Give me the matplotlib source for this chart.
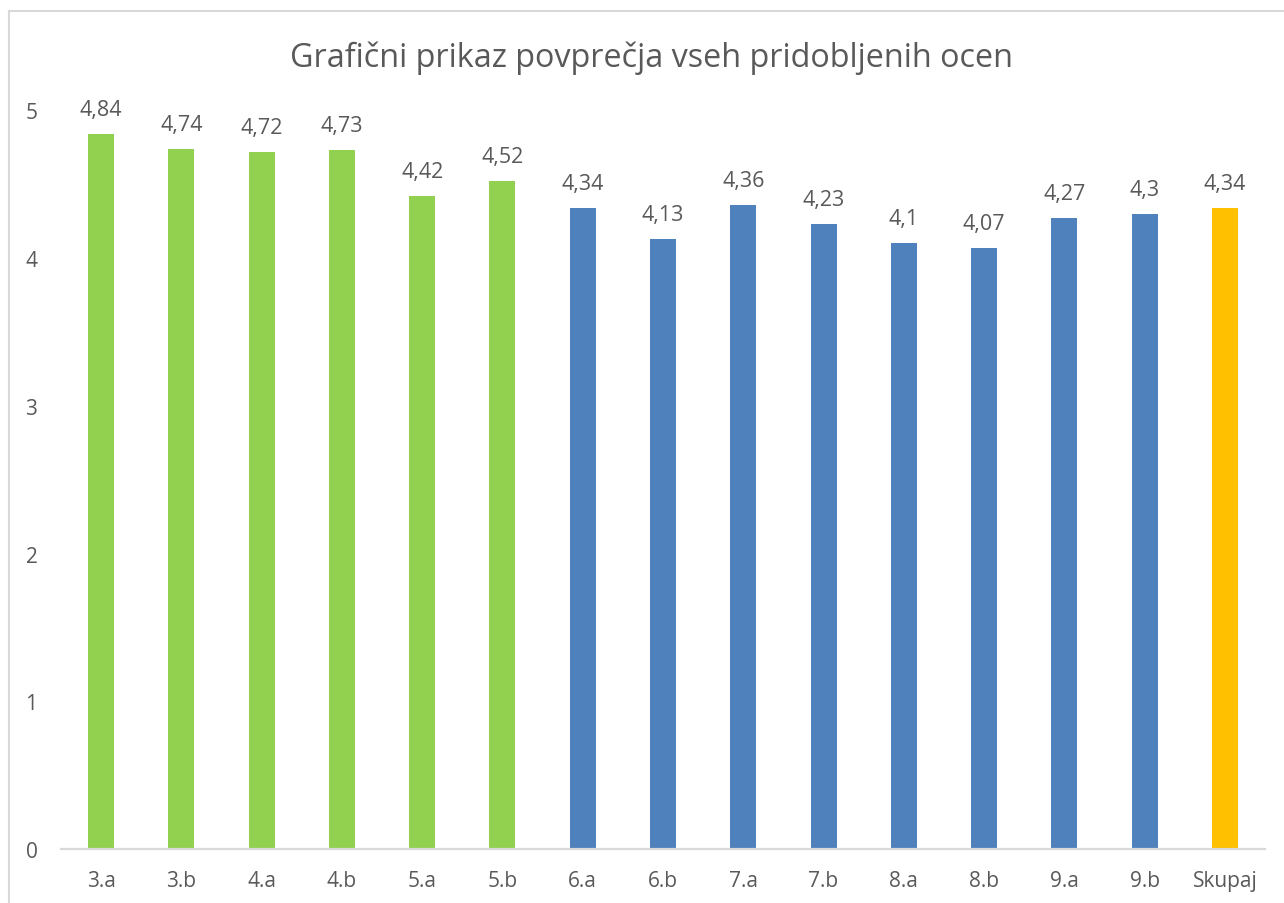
import matplotlib
matplotlib.use('Agg')
import matplotlib.pyplot as plt
from matplotlib.lines import Line2D

plt.rcParams['font.family'] = ['Open Sans', 'DejaVu Sans']

# Podatki
razredi = ['3.a', '3.b', '4.a', '4.b', '5.a', '5.b', '6.a', '6.b', '7.a', '7.b',
           '8.a', '8.b', '9.a', '9.b', 'Skupaj']
povprecja = [4.84, 4.74, 4.72, 4.73, 4.42, 4.52, 4.34, 4.13, 4.36, 4.23,
             4.1, 4.07, 4.27, 4.3, 4.34]
oznake = ['4,84', '4,74', '4,72', '4,73', '4,42', '4,52', '4,34', '4,13', '4,36', '4,23',
          '4,1', '4,07', '4,27', '4,3', '4,34']
barve = ['#92D050'] * 6 + ['#4F81BD'] * 8 + ['#FFC000']

siva = '#595959'
W, H = 1284, 904

fig = plt.figure(figsize=(W / 100, H / 100), dpi=100)
ax = fig.add_axes([61 / W, 54 / H, 1204 / W, (850 - 111.4) / H])

x = range(len(razredi))
stolpci = ax.bar(x, povprecja, width=0.324, color=barve)

for s, t in zip(stolpci, oznake):
    ax.annotate(t, (s.get_x() + s.get_width() / 2, s.get_height()),
                xytext=(0, 10), textcoords='offset points',
                ha='center', va='bottom', fontsize=15.5, color=siva)

ax.set_xlim(-0.5, len(razredi) - 0.5)
ax.set_ylim(0, 5)
ax.set_yticks(range(6))
ax.set_xticks(list(x))
ax.set_xticklabels(razredi)
ax.tick_params(axis='both', length=0, labelsize=15, labelcolor=siva)
ax.tick_params(axis='y', pad=17)
ax.tick_params(axis='x', pad=15)

for k in ['left', 'right', 'top']:
    ax.spines[k].set_visible(False)
ax.spines['bottom'].set_color('#D9D9D9')
ax.spines['bottom'].set_linewidth(1.6)

fig.text(651 / W, 1 - 58 / H, 'Grafični prikaz povprečja vseh pridobljenih ocen',
         ha='center', va='center', fontsize=23.3, color=siva)

# okvir grafikona
fig.add_artist(Line2D([9 / W, 9 / W], [0, 1 - 12 / H], color='#D9D9D9', lw=1.5))
fig.add_artist(Line2D([9 / W, 1], [1 - 12 / H, 1 - 12 / H], color='#D9D9D9', lw=1.5))

fig.savefig('out.png', dpi=100)
